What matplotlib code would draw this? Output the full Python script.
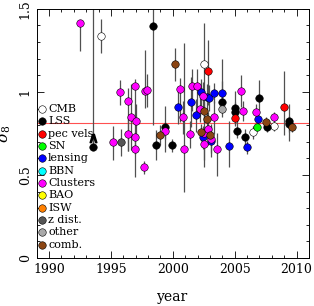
"""
sigma_8 measurements versus publication year, grouped by method.
"""

from matplotlib import pyplot as plt
from matplotlib.ticker import MultipleLocator

# data: year, sigma_8, lower error, upper error
cmb_year = [1994.2, 2002.5, 2008.2, 2006.45]
cmb_s8 = [1.337, 1.167, 0.795, 0.757]
cmb_lo = [0.10, 0.35, 0.03, 0.04]
cmb_hi = [0.10, 0.25, 0.03, 0.04]

lss_year = [1993.55, 1998.4, 1998.6, 1999.4, 1999.9, 2004.0, 2005.05, 2005.0,
            2005.15, 2005.8, 2007.0, 2007.6, 2009.4, 2009.4]
lss_s8 = [0.667, 1.398, 0.678, 0.787, 0.678, 0.938, 0.905, 0.877,
          0.765, 0.726, 0.966, 0.787, 0.827, 0.807]
lss_lo = [0.0, 0.60, 0.09, 0.15, 0.04, 0.06, 0.10, 0.06,
          0.04, 0.05, 0.075, 0.03, 0.12, 0.05]
lss_hi = [1.0, 0.10, 0.09, 0.13, 0.04, 0.06, 0.10, 0.06,
          0.07, 0.05, 0.107, 0.03, 0.10, 0.05]

pec_year = [2002.8, 2005.0, 2009.0]
pec_s8 = [1.123, 0.843, 0.908]
pec_lo = [0.20, 0.05, 0.17]
pec_hi = [0.19, 0.05, 0.22]

sn_year = [2006.8]
sn_s8 = [0.787]
sn_lo = [0.02]
sn_hi = [0.02]

lens_year = [2000.4, 2001.5, 2001.85, 2002.3, 2002.75, 2002.9, 2003.35, 2004.0,
             2003.1, 2002.4, 2004.55, 2006.0, 2006.85]
lens_s8 = [0.907, 0.937, 0.858, 0.997, 0.967, 0.962, 0.996, 0.996,
           0.707, 0.727, 0.677, 0.667, 0.837]
lens_lo = [0.10, 0.15, 0.10, 0.08, 0.08, 0.08, 0.06, 0.06,
           0.10, 0.07, 0.13, 0.04, 0.03]
lens_hi = [0.10, 0.15, 0.10, 0.08, 0.08, 0.08, 0.06, 0.07,
           0.10, 0.07, 0.15, 0.04, 0.03]

clus_year = [1992.5, 1995.75, 1996.35, 1996.95, 1996.6, 1997.0, 1995.2, 1996.35,
             1996.95, 1996.95, 1997.75, 1997.9, 1997.7, 1999.4, 2000.6, 2001.55,
             2001.95, 2000.8, 2000.9, 2001.35, 2002.2, 2002.4, 2002.5, 2002.5,
             2002.85, 2003.1, 2003.35, 2003.6, 2005.5, 2005.7, 2006.75, 2008.2]
clus_s8 = [1.414, 0.998, 0.946, 1.036, 0.848, 0.827, 0.697, 0.747,
           0.727, 0.657, 1.003, 1.009, 0.546, 0.767, 1.016, 1.036,
           1.036, 0.848, 0.655, 0.745, 0.896, 0.977, 0.750, 0.689,
           0.779, 0.714, 0.846, 0.655, 1.007, 0.887, 0.878, 0.848]
clus_lo = [0.17, 0.075, 0.30, 0.20, 0.20, 0.10, 0.11, 0.10,
           0.10, 0.17, 0.10, 0.10, 0.04, 0.05, 0.20, 0.15,
           0.15, 0.10, 0.26, 0.08, 0.08, 0.08, 0.20, 0.10,
           0.10, 0.08, 0.10, 0.16, 0.10, 0.06, 0.05, 0.03]
clus_hi = [0.02, 0.075, 0.08, 0.04, 0.20, 0.10, 0.10, 0.10,
           0.10, 0.10, 0.25, 0.10, 0.04, 0.05, 0.065, 0.10,
           0.10, 0.10, 0.64, 0.08, 0.08, 0.08, 0.10, 0.10,
           0.10, 0.08, 0.10, 0.10, 0.095, 0.06, 0.05, 0.03]

zd_year = [1995.8]
zd_s8 = [0.697]
zd_lo = [0.08]
zd_hi = [0.08]

oth_year = [2004.0]
oth_s8 = [0.896]
oth_lo = [0.05]
oth_hi = [0.30]

comb_year = [2000.15, 1999.0, 2002.5, 2002.75, 2002.25, 2003.0, 2007.55, 2009.6]
comb_s8 = [1.167, 0.738, 0.887, 0.836, 0.756, 0.739, 0.817, 0.787]
comb_lo = [0.10, 0.06, 0.05, 0.05, 0.05, 0.05, 0.03, 0.03]
comb_hi = [0.10, 0.06, 0.05, 0.05, 0.05, 0.05, 0.03, 0.03]

legend_labels = ["CMB", "LSS", "pec vels", "SN", "lensing", "BBN", "Clusters",
                 "BAO", "ISW", "z dist.", "other", "comb."]
legend_colors = ["white", "black", "#ff0000", "#00ff00", "#0000ff", "#00ffff",
                 "#ff00ff", "#ffff00", "#ff8000", "#555555", "#aaaaaa", "#8b4513"]

SIGMA8_REF = 0.81

plt.rcParams['font.family'] = 'DejaVu Serif'
plt.rcParams['mathtext.fontset'] = 'dejavuserif'

fig = plt.figure(figsize=(3.14, 3.06), dpi=100)
ax = fig.add_axes([0.117, 0.157, 0.867, 0.814])

groups = [
    (cmb_year, cmb_s8, cmb_lo, cmb_hi, "white"),
    (lss_year, lss_s8, lss_lo, lss_hi, "black"),
    (pec_year, pec_s8, pec_lo, pec_hi, "#ff0000"),
    (sn_year, sn_s8, sn_lo, sn_hi, "#00ff00"),
    (lens_year, lens_s8, lens_lo, lens_hi, "#0000ff"),
    (clus_year, clus_s8, clus_lo, clus_hi, "#ff00ff"),
    (zd_year, zd_s8, zd_lo, zd_hi, "#555555"),
    (oth_year, oth_s8, oth_lo, oth_hi, "#aaaaaa"),
    (comb_year, comb_s8, comb_lo, comb_hi, "#8b4513"),
]

# reference sigma_8 line
ax.axhline(SIGMA8_REF, color='#ff5050', lw=0.8, zorder=1)

for year, s8, lo, hi, col in groups:
    ax.errorbar(year, s8, yerr=[lo, hi], fmt='none', ecolor='#505050',
                elinewidth=0.9, capsize=0, zorder=2)
for year, s8, lo, hi, col in groups:
    ax.plot(year, s8, 'o', ms=5.4, mfc=col, mec='black', mew=0.4,
            ls='none', zorder=3)

# lower-limit arrow on the early LSS point
ax.plot(lss_year[0], lss_s8[0] + 0.055, marker=r'$\wedge$', ms=6,
        color='black', ls='none', zorder=3)

# legend drawn by hand down the left side
for i, (lab, col) in enumerate(zip(legend_labels, legend_colors)):
    yl = 0.898 - i * 0.0744
    ax.plot(1989.4, yl, 'o', ms=5.4, mfc=col, mec='black', mew=0.4,
            clip_on=False, zorder=4)
    ax.text(1989.92, yl, lab, fontsize=8, va='center', ha='left', zorder=4)

ax.set_xlim(1989, 2011)
ax.set_ylim(0, 1.5)
ax.xaxis.set_major_locator(MultipleLocator(5))
ax.xaxis.set_minor_locator(MultipleLocator(1))
ax.yaxis.set_major_locator(MultipleLocator(0.5))
ax.yaxis.set_minor_locator(MultipleLocator(0.1))
ax.set_yticks([0, 0.5, 1, 1.5])
ax.set_yticklabels(["0", "0.5", "1", "1.5"], rotation=90, va='center')
ax.tick_params(which='both', direction='in', top=True, right=True,
               labelsize=9, width=0.6)
ax.tick_params(which='major', length=5)
ax.tick_params(which='minor', length=2.5)
for sp in ax.spines.values():
    sp.set_linewidth(0.7)

ax.set_xlabel("year", fontsize=10, labelpad=10)
ax.set_ylabel(r"$\sigma_8$", fontsize=11, labelpad=4)

fig.savefig("out.png", dpi=100)
